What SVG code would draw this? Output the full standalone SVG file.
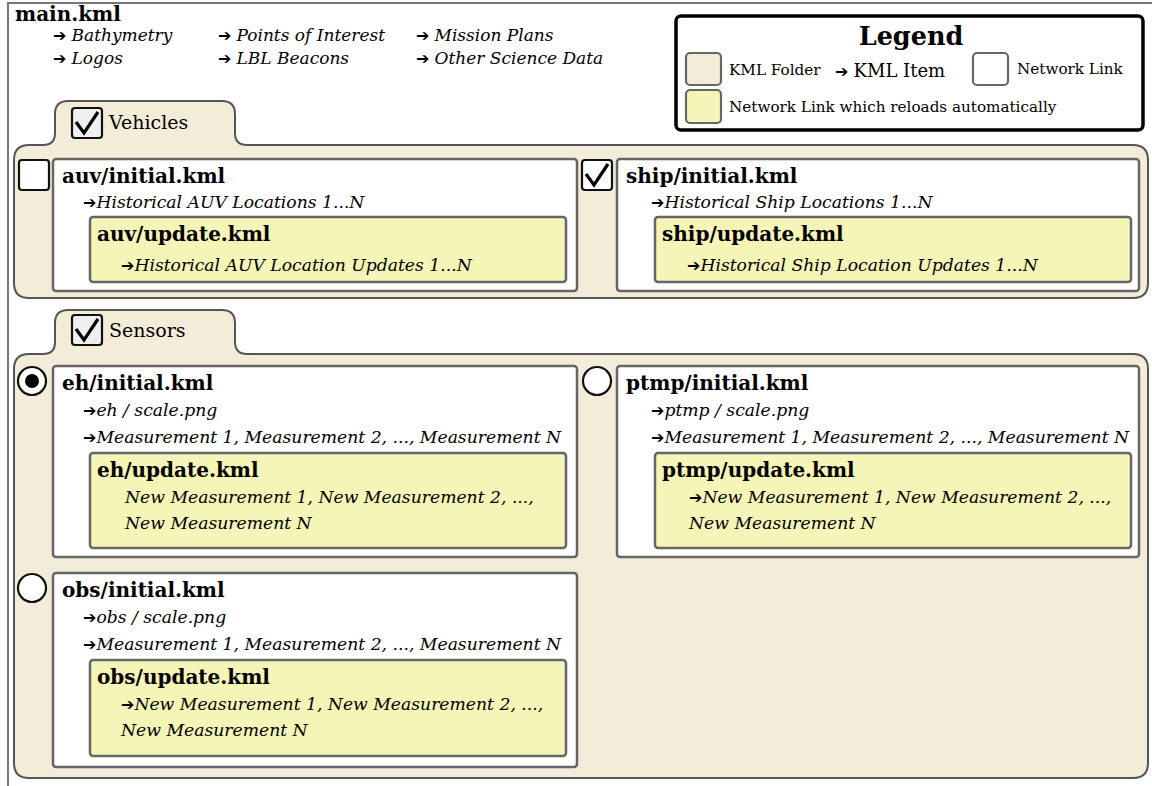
<svg xmlns="http://www.w3.org/2000/svg" width="1152" height="786" viewBox="0 0 1152 786">
  <defs>
    <style>
      .bg { fill: #ffffff; }
      .frame { fill: none; stroke: #777777; stroke-width: 2; }
      .folder { fill: #f3ecd9; stroke: #555555; stroke-width: 2; }
      .link { fill: #ffffff; stroke: #666666; stroke-width: 2.5; }
      .auto { fill: #f5f5b8; stroke: #666666; stroke-width: 2.5; }
      .box { fill: #ffffff; stroke: #111111; stroke-width: 2.2; }
      .tabbox { fill: #efefef; stroke: #111111; stroke-width: 2.2; }
      .tick { fill: none; stroke: #000000; stroke-width: 3.2; stroke-linejoin: miter; }
      .legend { fill: #ffffff; stroke: #000000; stroke-width: 3.5; }
      .sw { stroke: #666666; stroke-width: 2.2; }
      text { font-family: "DejaVu Serif", "Liberation Serif", serif; fill: #000000; }
      .h { font-weight: bold; font-size: 20px; }
      .it { font-style: italic; font-size: 17.2px; }
      .top { font-style: italic; font-size: 17px; }
      .tab { font-size: 19px; }
      .lg { font-size: 15.2px; }
      .arr { font-family: "DejaVu Sans", sans-serif; font-style: normal; font-size: 16px; }
    </style>
  </defs>

  <rect class="bg" x="0" y="0" width="1152" height="786"/>

  <!-- main.kml document frame -->
  <g id="main">
    <rect class="frame" x="8" y="3" width="1200" height="900"/>
    <text class="h" x="15" y="21">main.kml</text>
    <text class="top" x="53" y="41"><tspan class="arr">➔ </tspan>Bathymetry</text>
    <text class="top" x="218" y="41"><tspan class="arr">➔ </tspan>Points of Interest</text>
    <text class="top" x="416" y="41"><tspan class="arr">➔ </tspan>Mission Plans</text>
    <text class="top" x="53" y="64"><tspan class="arr">➔ </tspan>Logos</text>
    <text class="top" x="218" y="64"><tspan class="arr">➔ </tspan>LBL Beacons</text>
    <text class="top" x="416" y="64"><tspan class="arr">➔ </tspan>Other Science Data</text>
  </g>

  <!-- legend -->
  <g id="legend">
    <rect class="legend" x="676" y="16" width="467" height="114" rx="5"/>
    <text x="911" y="45" text-anchor="middle" font-weight="bold" font-size="25.5px">Legend</text>
    <rect class="sw" x="686" y="53" width="35" height="32" rx="4" fill="#f3ecd9"/>
    <text class="lg" x="729" y="75">KML Folder</text>
    <text x="835" y="77" font-size="18px"><tspan class="arr">➔ </tspan>KML Item</text>
    <rect class="sw" x="973" y="53" width="35" height="32" rx="4" fill="#ffffff"/>
    <text class="lg" x="1017" y="74">Network Link</text>
    <rect class="sw" x="686" y="90" width="35" height="33" rx="4" fill="#f5f5b8"/>
    <text class="lg" x="729" y="112">Network Link which reloads automatically</text>
  </g>

  <!-- Vehicles folder -->
  <g id="vehicles">
    <path class="folder" d="M14,160 Q14,145 29,145 L43,145 Q55,145 55,133 L55,114 Q55,101 68,101 L222,101 Q235,101 235,114 L235,133 Q235,145 247,145 L1133,145 Q1148,145 1148,160 L1148,283 Q1148,298 1133,298 L29,298 Q14,298 14,283 Z"/>
    <rect class="tabbox" x="72" y="108" width="30" height="30" rx="3"/>
    <path class="tick" d="M76,122 L84,133 L98,112"/>
    <text class="tab" x="109" y="129">Vehicles</text>
  </g>

  <g id="auv">
    <rect class="box" x="19" y="160" width="30" height="30" rx="3"/>
    <rect class="link" x="53" y="159" width="524" height="132" rx="3"/>
    <text class="h" x="62" y="183">auv/initial.kml</text>
    <text class="it" x="83" y="208"><tspan class="arr">➔</tspan>Historical AUV Locations 1...N</text>
  </g>
  <g id="auv-update">
    <rect class="auto" x="90" y="217" width="476" height="65" rx="3"/>
    <text class="h" x="97" y="241">auv/update.kml</text>
    <text class="it" x="121" y="271"><tspan class="arr">➔</tspan>Historical AUV Location Updates 1...N</text>
  </g>

  <g id="ship">
    <rect class="box" x="582" y="160" width="30" height="30" rx="3"/>
    <path class="tick" d="M586,174 L594,185 L608,164"/>
    <rect class="link" x="617" y="159" width="522" height="132" rx="3"/>
    <text class="h" x="626" y="183">ship/initial.kml</text>
    <text class="it" x="651" y="208"><tspan class="arr">➔</tspan>Historical Ship Locations 1...N</text>
  </g>
  <g id="ship-update">
    <rect class="auto" x="655" y="217" width="476" height="65" rx="3"/>
    <text class="h" x="662" y="241">ship/update.kml</text>
    <text class="it" x="687" y="271"><tspan class="arr">➔</tspan>Historical Ship Location Updates 1...N</text>
  </g>

  <!-- Sensors folder -->
  <g id="sensors">
    <path class="folder" d="M14,369 Q14,354 29,354 L43,354 Q55,354 55,342 L55,323 Q55,310 68,310 L222,310 Q235,310 235,323 L235,342 Q235,354 247,354 L1133,354 Q1148,354 1148,369 L1148,763 Q1148,778 1133,778 L29,778 Q14,778 14,763 Z"/>
    <rect class="tabbox" x="72" y="315" width="30" height="30" rx="3"/>
    <path class="tick" d="M76,329 L84,340 L98,319"/>
    <text class="tab" x="109" y="337">Sensors</text>
  </g>

  <g id="eh">
    <circle class="box" cx="32" cy="381" r="14"/>
    <circle cx="32" cy="381" r="7" fill="#000000"/>
    <rect class="link" x="53" y="366" width="524" height="191" rx="3"/>
    <text class="h" x="62" y="390">eh/initial.kml</text>
    <text class="it" x="83" y="416"><tspan class="arr">➔</tspan>eh / scale.png</text>
    <text class="it" x="83" y="443"><tspan class="arr">➔</tspan>Measurement 1, Measurement 2, ..., Measurement N</text>
  </g>
  <g id="eh-update">
    <rect class="auto" x="90" y="453" width="476" height="95" rx="3"/>
    <text class="h" x="97" y="477">eh/update.kml</text>
    <text class="it" x="125" y="503">New Measurement 1, New Measurement 2, ...,</text>
    <text class="it" x="125" y="529">New Measurement N</text>
  </g>

  <g id="ptmp">
    <circle class="box" cx="597" cy="381" r="14"/>
    <rect class="link" x="617" y="366" width="522" height="191" rx="3"/>
    <text class="h" x="626" y="390">ptmp/initial.kml</text>
    <text class="it" x="651" y="416"><tspan class="arr">➔</tspan>ptmp / scale.png</text>
    <text class="it" x="651" y="443"><tspan class="arr">➔</tspan>Measurement 1, Measurement 2, ..., Measurement N</text>
  </g>
  <g id="ptmp-update">
    <rect class="auto" x="655" y="453" width="476" height="95" rx="3"/>
    <text class="h" x="662" y="477">ptmp/update.kml</text>
    <text class="it" x="689" y="503"><tspan class="arr">➔</tspan>New Measurement 1, New Measurement 2, ...,</text>
    <text class="it" x="689" y="529">New Measurement N</text>
  </g>

  <g id="obs">
    <circle class="box" cx="32" cy="588" r="14"/>
    <rect class="link" x="53" y="573" width="524" height="194" rx="3"/>
    <text class="h" x="62" y="597">obs/initial.kml</text>
    <text class="it" x="83" y="623"><tspan class="arr">➔</tspan>obs / scale.png</text>
    <text class="it" x="83" y="650"><tspan class="arr">➔</tspan>Measurement 1, Measurement 2, ..., Measurement N</text>
  </g>
  <g id="obs-update">
    <rect class="auto" x="90" y="660" width="476" height="96" rx="3"/>
    <text class="h" x="97" y="684">obs/update.kml</text>
    <text class="it" x="121" y="710"><tspan class="arr">➔</tspan>New Measurement 1, New Measurement 2, ...,</text>
    <text class="it" x="121" y="736">New Measurement N</text>
  </g>

  <!-- no connectors: nesting expresses containment -->
  <g id="connectors"/>
</svg>
